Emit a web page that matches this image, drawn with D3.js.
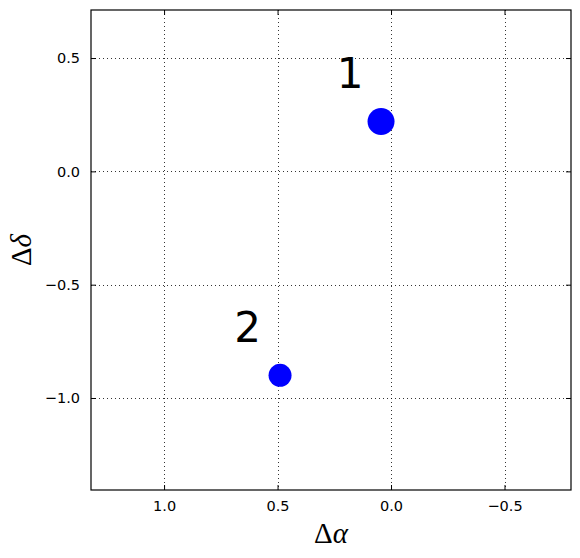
<!DOCTYPE html>
<html>
<head>
<meta charset="utf-8">
<script src="https://cdn.jsdelivr.net/npm/d3@7"></script>
<style>
  body { margin: 0; background: #fff; }
  svg { display: block; }
</style>
</head>
<body>
<div id="chart"></div>
<script>
// offsets of the two sources
const labels = ["1", "2"];
const dAlpha = [0.044, 0.489];
const dDelta = [0.22, -0.90];
const markerR = [13.5, 11.5];
// where the number labels sit
const labelAlpha = [0.18, 0.632];
const labelDelta = [0.366, -0.755];

const xTicks = [1.0, 0.5, 0.0, -0.5];
const yTicks = [0.5, 0.0, -0.5, -1.0];
const xDomain = [1.322, -0.793];
const yDomain = [-1.406, 0.712];

const width = 580, height = 558;
const margin = { top: 10, right: 9, bottom: 68, left: 91 };

const svg = d3.select("#chart").append("svg")
  .attr("width", width)
  .attr("height", height);

const x = d3.scaleLinear().domain(xDomain).range([margin.left, width - margin.right]);
const y = d3.scaleLinear().domain(yDomain).range([height - margin.bottom, margin.top]);

const fmt = d => d3.format(".1f")(d).replace("-", "\u2212");

// grid
const grid = svg.append("g").attr("stroke", "#000").attr("stroke-width", 0.8)
  .attr("stroke-dasharray", "1,3");
grid.selectAll(".gx").data(xTicks).enter().append("line")
  .attr("x1", d => Math.round(x(d)) + 0.5).attr("x2", d => Math.round(x(d)) + 0.5)
  .attr("y1", y.range()[1]).attr("y2", y.range()[0]);
grid.selectAll(".gy").data(yTicks).enter().append("line")
  .attr("y1", d => Math.round(y(d)) + 0.5).attr("y2", d => Math.round(y(d)) + 0.5)
  .attr("x1", x.range()[0]).attr("x2", x.range()[1]);

// axes with inward ticks
const axisFont = "DejaVu Sans, sans-serif";
const gBottom = svg.append("g")
  .attr("transform", `translate(0,${y.range()[0]})`)
  .call(d3.axisBottom(x).tickValues(xTicks).tickFormat(fmt).tickSizeInner(-5).tickSizeOuter(0).tickPadding(11));
const gLeft = svg.append("g")
  .attr("transform", `translate(${x.range()[0]},0)`)
  .call(d3.axisLeft(y).tickValues(yTicks).tickFormat(fmt).tickSizeInner(-5).tickSizeOuter(0).tickPadding(11));
const gTop = svg.append("g")
  .attr("transform", `translate(0,${y.range()[1]})`)
  .call(d3.axisTop(x).tickValues(xTicks).tickFormat("").tickSizeInner(-5).tickSizeOuter(0));
const gRight = svg.append("g")
  .attr("transform", `translate(${x.range()[1]},0)`)
  .call(d3.axisRight(y).tickValues(yTicks).tickFormat("").tickSizeInner(-5).tickSizeOuter(0));

[gBottom, gLeft, gTop, gRight].forEach(g => {
  g.select(".domain").remove();
  g.selectAll("line").attr("stroke", "#000");
  g.selectAll("text").attr("font-family", axisFont).attr("font-size", 14.5).attr("fill", "#000");
});

// frame
svg.append("rect")
  .attr("x", x.range()[0]).attr("y", y.range()[1])
  .attr("width", x.range()[1] - x.range()[0])
  .attr("height", y.range()[0] - y.range()[1])
  .attr("fill", "none").attr("stroke", "#000").attr("stroke-width", 1.2);

// points
svg.append("g").selectAll("circle")
  .data(labels)
  .enter().append("circle")
  .attr("cx", (d, i) => x(dAlpha[i]))
  .attr("cy", (d, i) => y(dDelta[i]))
  .attr("r", (d, i) => markerR[i])
  .attr("fill", "#0000ff");

svg.append("g").selectAll("text")
  .data(labels)
  .enter().append("text")
  .attr("x", (d, i) => x(labelAlpha[i]))
  .attr("y", (d, i) => y(labelDelta[i]))
  .attr("text-anchor", "middle")
  .attr("font-family", axisFont)
  .attr("font-size", 42)
  .text(d => d);

// axis titles
const mathFont = "Liberation Serif, DejaVu Serif, serif";
svg.append("text")
  .attr("x", (x.range()[0] + x.range()[1]) / 2)
  .attr("y", 543)
  .attr("text-anchor", "middle")
  .attr("font-family", mathFont)
  .attr("font-size", 29)
  .html('\u0394<tspan font-style="italic">\u03b1</tspan>');

svg.append("text")
  .attr("transform", `translate(31,${(y.range()[0] + y.range()[1]) / 2}) rotate(-90)`)
  .attr("text-anchor", "middle")
  .attr("font-family", mathFont)
  .attr("font-size", 29)
  .html('\u0394<tspan font-style="italic">\u03b4</tspan>');
</script>
</body>
</html>
